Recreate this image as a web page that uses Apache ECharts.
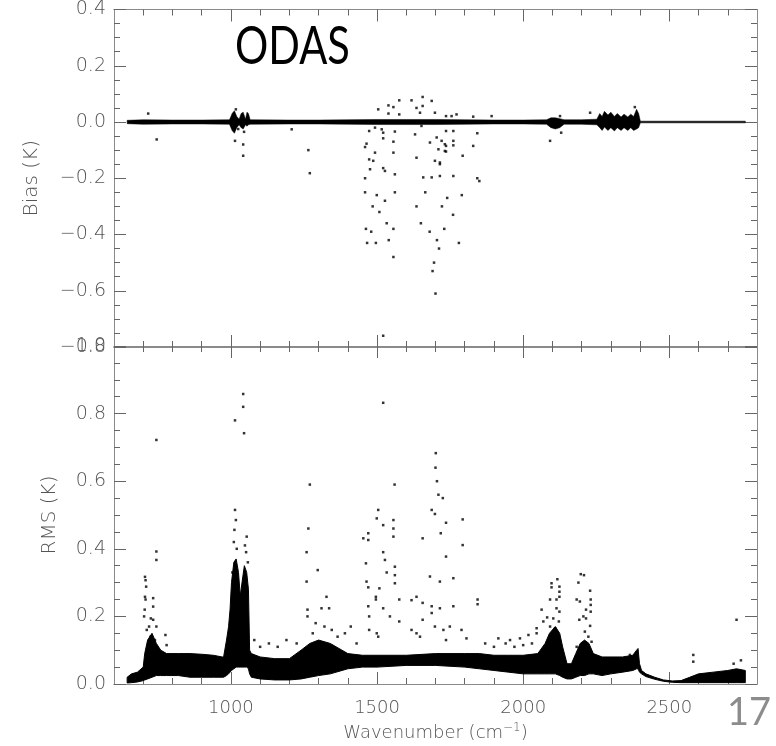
<!DOCTYPE html>
<html><head><meta charset="utf-8">
<script src="https://cdn.jsdelivr.net/npm/echarts@6/dist/echarts.min.js"></script>
<style>html,body{margin:0;padding:0;background:#fff}#c{width:776px;height:746px}</style>
</head><body><div id="c"></div>
<script>
// ---------- data ----------
const xMajorTicks = [1000, 1500, 2000, 2500];
const xMinorTicks = [700, 800, 900, 1100, 1200, 1300, 1400, 1600, 1700, 1800, 1900, 2100, 2200, 2300, 2400, 2600, 2700];

// Bias: dense core band (lower / upper envelope)
const biasBandW  = [645,700,800,900,995,1000,1004,1012,1020,1028,1035,1042,1050,1055,1060,1066,1200,1300,1400,1500,1600,1700,1800,1900,2000,2080,2095,2110,2125,2140,2200,2252,2262,2270,2278,2290,2300,2312,2322,2335,2345,2358,2368,2378,2388,2395,2401,2500,2600,2700,2760];
const biasBandHi = [0.006,0.008,0.007,0.007,0.008,0.02,0.03,0.04,0.02,0.01,0.03,0.035,0.01,0.035,0.03,0.008,0.007,0.007,0.008,0.009,0.009,0.009,0.008,0.007,0.007,0.008,0.015,0.015,0.012,0.008,0.008,0.01,0.03,0.02,0.038,0.025,0.035,0.02,0.03,0.018,0.028,0.018,0.028,0.02,0.045,0.03,0.003,0.003,0.003,0.003,0.003];
const biasBandLo = [-0.006,-0.008,-0.007,-0.007,-0.008,-0.02,-0.03,-0.04,-0.02,-0.01,-0.02,-0.025,-0.01,-0.015,-0.01,-0.008,-0.007,-0.007,-0.008,-0.009,-0.009,-0.009,-0.008,-0.007,-0.007,-0.008,-0.02,-0.025,-0.02,-0.008,-0.008,-0.01,-0.02,-0.03,-0.018,-0.03,-0.02,-0.032,-0.02,-0.03,-0.02,-0.03,-0.02,-0.03,-0.025,-0.02,-0.003,-0.003,-0.003,-0.003,-0.003];

// Bias: scattered channels
const biasPoints = [
 [717,0.03],[746,-0.062],[1017,0.045],[1025,-0.025],[1014,-0.067],[1042,-0.08],[1042,-0.12],[1045,-0.035],[1208,-0.026],[1265,-0.1],[1270,-0.182],
 [1504,0.045],[1539,0.059],[1539,0.03],[1556,0.053],[1576,0.077],[1618,0.077],[1656,0.089],[1656,0.057],[1635,0.05],[1647,0.033],[1687,0.075],[1698,0.033],[1736,0.021],[1576,0.027],
 [1473,-0.032],[1493,-0.02],[1516,-0.026],[1521,-0.038],[1561,-0.034],[1521,-0.058],[1556,-0.07],[1464,-0.077],[1459,-0.089],[1493,-0.109],[1556,-0.109],[1473,-0.133],[1487,-0.138],[1476,-0.168],[1521,-0.164],[1527,-0.174],[1561,-0.186],[1459,-0.2],
 [1630,-0.044],[1652,-0.014],[1635,-0.127],[1681,-0.073],[1704,-0.055],[1721,-0.067],[1732,-0.079],[1710,-0.097],[1732,-0.103],[1698,-0.138],[1715,-0.144],[1658,-0.197],[1687,-0.197],[1715,-0.192],[1761,-0.192],[1761,-0.067],[1761,-0.032],[1755,0.021],
 [1772,0.027],[1829,0.019],[1892,0.021],[1736,-0.085],[1761,-0.083],[1736,-0.105],[1793,-0.12],[1829,-0.085],[1715,-0.15],[1843,-0.2],[1843,-0.04],[1736,-0.032],[2126,0.021],[2130,-0.038],[2092,-0.067],[2229,0.033],[2382,0.053],
 [1459,-0.25],[1462,-0.38],[1466,-0.43],[1480,-0.39],[1485,-0.3],[1496,-0.43],[1499,-0.26],[1508,-0.32],[1521,-0.76],[1527,-0.28],[1533,-0.36],[1540,-0.42],[1556,-0.48],[1556,-0.38],[1561,-0.25],
 [1635,-0.3],[1650,-0.36],[1665,-0.25],[1680,-0.39],[1690,-0.53],[1695,-0.5],[1700,-0.61],[1705,-0.42],[1712,-0.45],[1722,-0.3],[1730,-0.38],[1740,-0.27],[1760,-0.33],[1780,-0.43],[1790,-0.26],[1850,-0.21]
];

// RMS: dense core band (lower / upper envelope)
const rmsBandW  = [645,660,680,700,705,715,730,745,760,780,820,860,900,940,970,975,985,992,997,1002,1010,1018,1026,1032,1038,1046,1054,1060,1064,1070,1100,1150,1200,1240,1270,1300,1340,1380,1400,1450,1500,1600,1700,1800,1850,1900,1950,2000,2050,2075,2090,2110,2125,2135,2150,2165,2180,2195,2210,2225,2240,2270,2300,2340,2375,2388,2393,2398,2405,2420,2450,2480,2510,2540,2570,2600,2650,2700,2730,2760];
const rmsBandLo = [0.003,0.004,0.006,0.01,0.012,0.015,0.02,0.025,0.025,0.025,0.025,0.02,0.02,0.02,0.02,0.02,0.025,0.03,0.035,0.04,0.045,0.05,0.05,0.05,0.05,0.05,0.05,0.045,0.03,0.02,0.015,0.012,0.012,0.015,0.02,0.025,0.03,0.04,0.045,0.05,0.05,0.055,0.055,0.05,0.045,0.04,0.035,0.03,0.03,0.03,0.03,0.03,0.025,0.02,0.015,0.015,0.02,0.025,0.025,0.03,0.03,0.025,0.03,0.035,0.04,0.045,0.045,0.035,0.03,0.022,0.014,0.008,0.005,0.004,0.004,0.004,0.004,0.004,0.004,0.004];
const rmsBandHi = [0.02,0.03,0.035,0.05,0.09,0.13,0.15,0.12,0.1,0.09,0.09,0.09,0.088,0.085,0.08,0.08,0.13,0.17,0.22,0.3,0.36,0.37,0.33,0.26,0.3,0.35,0.33,0.28,0.1,0.09,0.08,0.075,0.075,0.1,0.12,0.13,0.12,0.1,0.09,0.085,0.085,0.085,0.09,0.09,0.09,0.085,0.085,0.085,0.09,0.12,0.15,0.17,0.15,0.11,0.06,0.06,0.09,0.12,0.13,0.12,0.09,0.08,0.08,0.08,0.085,0.1,0.105,0.06,0.04,0.03,0.02,0.012,0.009,0.01,0.02,0.03,0.035,0.04,0.045,0.04];

// RMS: scattered channels
const rmsPoints = [
 [706,0.317],[708,0.307],[710,0.288],[706,0.258],[708,0.25],[734,0.254],[734,0.229],[705,0.22],[726,0.194],[734,0.19],[720,0.17],[745,0.17],[745,0.722],[745,0.392],[745,0.367],[776,0.145],[703,0.2],[712,0.16],[725,0.14],[740,0.13],[780,0.115],
 [1042,0.858],[1042,0.82],[1014,0.78],[1045,0.742],[1014,0.515],[1017,0.485],[1012,0.456],[1054,0.436],[1052,0.39],[1010,0.42],[1020,0.40],[1048,0.41],[1005,0.33],[1058,0.36],
 [1265,0.46],[1259,0.39],[1259,0.303],[1297,0.337],[1327,0.258],[1310,0.224],[1336,0.224],[1262,0.22],[1262,0.2],[1270,0.59],[1290,0.18],[1320,0.17],[1345,0.16],[1280,0.15],[1365,0.14],
 [1100,0.11],[1130,0.12],[1160,0.11],[1190,0.13],[1225,0.12],[1080,0.13],[1390,0.15],[1410,0.17],[1430,0.12],
 [1453,0.431],[1470,0.446],[1470,0.426],[1504,0.515],[1499,0.49],[1521,0.47],[1556,0.485],[1556,0.46],[1556,0.436],[1521,0.39],[1527,0.367],[1533,0.33],[1561,0.347],[1561,0.322],[1561,0.298],[1462,0.357],[1464,0.303],[1470,0.286],[1508,0.283],[1496,0.258],[1496,0.25],[1576,0.25],[1618,0.248],[1635,0.258],[1656,0.431],[1687,0.515],[1698,0.503],[1736,0.477],[1718,0.446],[1736,0.377],[1761,0.313],[1761,0.23],[1681,0.318],[1715,0.303],[1656,0.24],[1656,0.19],[1687,0.23],[1687,0.21],[1715,0.224],[1470,0.23],[1473,0.2],[1521,0.224],[1544,0.2],[1576,0.185],[1473,0.16],[1499,0.15],[1504,0.14],[1618,0.16],[1635,0.15],[1647,0.14],[1698,0.17],[1727,0.16],[1749,0.17],
 [1521,0.832],[1701,0.683],[1560,0.59],[1700,0.64],[1705,0.6],[1710,0.56],[1725,0.55],
 [1793,0.487],[1793,0.411],[1844,0.25],[1844,0.236],[1789,0.16],[1806,0.135],[1736,0.13],[1915,0.135],[1955,0.13],[1989,0.135],[2018,0.145],[2046,0.165],[2046,0.15],
 [1870,0.12],[1900,0.11],[1940,0.12],[1970,0.11],[2000,0.115],[2030,0.12],
 [2097,0.298],[2097,0.286],[2117,0.31],[2124,0.288],[2124,0.273],[2124,0.258],[2092,0.25],[2114,0.25],[2063,0.22],[2082,0.197],[2114,0.224],[2124,0.214],[2122,0.185],[2103,0.194],[2069,0.185],[2092,0.17],[2109,0.165],
 [2197,0.325],[2208,0.322],[2189,0.3],[2229,0.276],[2183,0.25],[2194,0.244],[2231,0.25],[2231,0.234],[2215,0.22],[2231,0.214],[2206,0.2],[2215,0.194],[2192,0.19],[2229,0.172],[2211,0.155],[2223,0.14],[2183,0.11],[2206,0.115],[2234,0.125],
 [2365,0.086],[2582,0.086],[2582,0.066],[2730,0.19],[2720,0.06],[2745,0.07]
];

// ---------- chart ----------
const X_MIN = 600, X_MAX = 2800;
const FONT = 'DejaVu Sans';
const axisCol = '#8a8a8a';
const tickCol = '#666';
const labelStyle = { color: '#555', fontFamily: FONT, fontWeight: 200, fontSize: 19 };
const fmt = v => (v < -1e-9 ? '\u2212' + Math.abs(v).toFixed(1) : Math.abs(v).toFixed(1));

function xAxisDef(gridIndex, position, ticks, len, withLabels) {
  const a = {
    type: 'value', gridIndex, position, min: X_MIN, max: X_MAX,
    axisLine: { show: true, onZero: false, lineStyle: { color: axisCol, width: 1 } },
    axisTick: { show: true, inside: true, length: len, customValues: ticks, lineStyle: { color: tickCol, width: 1 } },
    axisLabel: { show: !!withLabels, customValues: ticks, margin: 15, formatter: v => String(v), ...labelStyle, fontSize: 18 },
    splitLine: { show: false }
  };
  if (withLabels) {
    a.name = 'Wavenumber (cm{sup|\u22121})';
    a.nameLocation = 'middle';
    a.nameGap = 38;
    a.nameTextStyle = { color: '#555', fontFamily: FONT, fontWeight: 200, fontSize: 18,
      rich: { sup: { fontSize: 12, verticalAlign: 'top', color: '#555', fontFamily: FONT, fontWeight: 200, padding: [0, 0, 10, 0] } } };
  }
  return a;
}
function yAxisDef(gridIndex, position, min, max, withLabels, name, nameGap) {
  const a = {
    type: 'value', gridIndex, position, min, max, interval: 0.2,
    axisLine: { show: true, onZero: false, lineStyle: { color: axisCol, width: 1 } },
    axisTick: { show: true, inside: true, length: 12, lineStyle: { color: tickCol, width: 1 } },
    minorTick: { show: true, splitNumber: 4, length: 6, lineStyle: { color: tickCol, width: 1 } },
    axisLabel: { show: !!withLabels, formatter: fmt, margin: 8, showMinLabel: true, showMaxLabel: true, ...labelStyle },
    splitLine: { show: false }, minorSplitLine: { show: false }
  };
  if (name) {
    a.name = name; a.nameLocation = 'middle'; a.nameGap = nameGap;
    a.nameTextStyle = { color: '#555', fontFamily: FONT, fontWeight: 200, fontSize: 20 };
  }
  return a;
}

// dense core drawn as a filled envelope through the axes' scales
function band(xIdx, yIdx, w, lo, hi, strokeW) {
  const data = w.map((x, i) => [x, lo[i], hi[i]]);
  return {
    type: 'custom', xAxisIndex: xIdx, yAxisIndex: yIdx, data, silent: true, z: 3, clip: true,
    encode: { x: 0, y: [1, 2] },
    renderItem(params, api) {
      if (params.dataIndex !== 0) return null;
      const top = data.map(d => api.coord([d[0], d[2]]));
      const bot = data.map(d => api.coord([d[0], d[1]])).reverse();
      return { type: 'polygon', shape: { points: top.concat(bot) },
        style: { fill: '#000', stroke: '#000', lineWidth: strokeW } };
    }
  };
}

const option = {
  animation: false,
  backgroundColor: '#fff',
  grid: [
    { left: 114, top: 9, width: 643, height: 338 },
    { left: 114, top: 346, width: 643, height: 338 }
  ],
  xAxis: [
    xAxisDef(0, 'bottom', xMajorTicks, 12, false),
    xAxisDef(0, 'bottom', xMinorTicks, 6, false),
    xAxisDef(0, 'top', xMajorTicks, 12, false),
    xAxisDef(0, 'top', xMinorTicks, 6, false),
    xAxisDef(1, 'bottom', xMajorTicks, 12, true),
    xAxisDef(1, 'bottom', xMinorTicks, 6, false),
    xAxisDef(1, 'top', xMajorTicks, 12, false),
    xAxisDef(1, 'top', xMinorTicks, 6, false)
  ],
  yAxis: [
    yAxisDef(0, 'left', -0.8, 0.4, true, 'Bias (K)', 72),
    yAxisDef(0, 'right', -0.8, 0.4, false),
    yAxisDef(1, 'left', 0, 1.0, true, 'RMS (K)', 54),
    yAxisDef(1, 'right', 0, 1.0, false)
  ],
  series: [
    band(0, 0, biasBandW, biasBandLo, biasBandHi, 0.5),
    { type: 'scatter', xAxisIndex: 0, yAxisIndex: 0, data: biasPoints, symbol: 'rect', symbolSize: 2.5,
      itemStyle: { color: '#000' }, silent: true, z: 4 },
    band(4, 2, rmsBandW, rmsBandLo, rmsBandHi, 1),
    { type: 'scatter', xAxisIndex: 4, yAxisIndex: 2, data: rmsPoints, symbol: 'rect', symbolSize: 2.5,
      itemStyle: { color: '#000' }, silent: true, z: 4 }
  ],
  graphic: [
    { type: 'text', left: 235, top: 21, scaleX: 0.8, style: { text: 'ODAS', font: '52px Lato', fill: '#000' } },
    { type: 'text', right: 5, top: 694, style: { text: '17', font: '38px Lato', fill: '#8c8c8c' } }
  ]
};

const chart = echarts.init(document.getElementById('c'), null, { renderer: 'canvas' });
chart.setOption(option);
</script></body></html>
